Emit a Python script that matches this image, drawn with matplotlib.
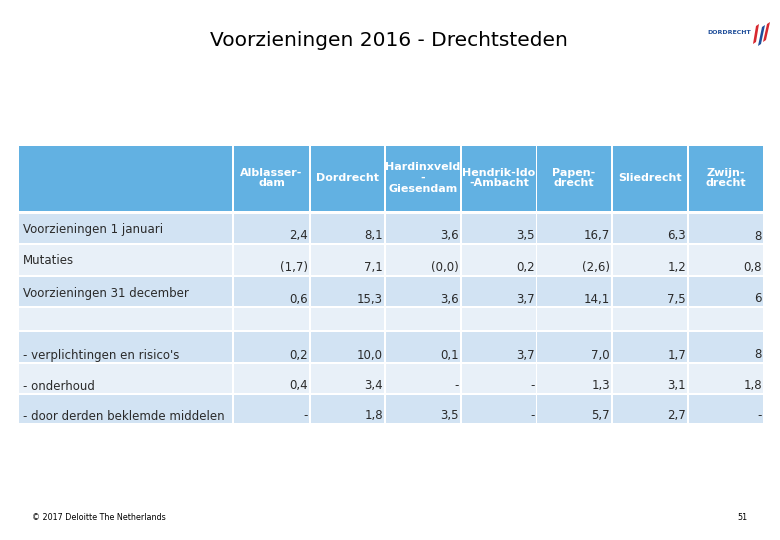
import matplotlib.pyplot as plt
from matplotlib.patches import Rectangle, Polygon

# Table content
columns = ["Alblasser-\ndam", "Dordrecht", "Hardinxveld\n-\nGiesendam", "Hendrik-Ido\n-Ambacht",
           "Papen-\ndrecht", "Sliedrecht", "Zwijn-\ndrecht"]
row_labels = ["Voorzieningen 1 januari", "Mutaties", "Voorzieningen 31 december", "",
              "- verplichtingen en risico's", "- onderhoud", "- door derden beklemde middelen"]
jan_1 = ["2,4", "8,1", "3,6", "3,5", "16,7", "6,3", "8"]
mutaties = ["(1,7)", "7,1", "(0,0)", "0,2", "(2,6)", "1,2", "0,8"]
dec_31 = ["0,6", "15,3", "3,6", "3,7", "14,1", "7,5", "6"]
empty_row = [""] * 7
verplichtingen = ["0,2", "10,0", "0,1", "3,7", "7,0", "1,7", "8"]
onderhoud = ["0,4", "3,4", "-", "-", "1,3", "3,1", "1,8"]
derden = ["-", "1,8", "3,5", "-", "5,7", "2,7", "-"]
rows = [jan_1, mutaties, dec_31, empty_row, verplichtingen, onderhoud, derden]

HEADER = "#62B1E2"
DARK = "#D2E3F3"
LIGHT = "#E8F0F8"
FONT = "DejaVu Sans"

fig = plt.figure(figsize=(7.8, 5.4), dpi=100)
ax = fig.add_axes([0, 0, 1, 1])
ax.set_xlim(0, 780)
ax.set_ylim(540, 0)
ax.axis("off")

# column edges (pixels)
col_x = [19, 234, 311, 386, 462, 537, 613, 689]
col_r = [232, 309, 384, 460, 536, 611, 687, 763]
# row edges
row_top = [214, 245, 277, 308, 332, 364, 395]
row_bot = [243, 275, 306, 330, 362, 393, 423]

# header
for l, r in zip(col_x, col_r):
    ax.add_patch(Rectangle((l, 146), r - l, 65, facecolor=HEADER, edgecolor="none"))
for i, name in enumerate(columns):
    cx = (col_x[i + 1] + col_r[i + 1]) / 2
    ax.text(cx, 178, name, ha="center", va="center", color="white", fontsize=8,
            fontweight="bold", family=FONT, linespacing=1.1)

# body
for ri, (label, vals) in enumerate(zip(row_labels, rows)):
    color = DARK if ri % 2 == 0 else LIGHT
    top, bot = row_top[ri], row_bot[ri]
    for l, r in zip(col_x, col_r):
        ax.add_patch(Rectangle((l, top), r - l, bot - top, facecolor=color, edgecolor="none"))
    if ri < 3:
        ly = top + 16
    else:
        ly = bot - 7
    ax.text(23, ly, label, ha="left", va="center", fontsize=8.5, family=FONT, color="#2a2a2a")
    for ci, v in enumerate(vals):
        ax.text(col_r[ci + 1] - 1, bot - 7, v, ha="right", va="center", fontsize=8.5,
                family=FONT, color="#2a2a2a")

# title
ax.text(389, 40, "Voorzieningen 2016 - Drechtsteden", ha="center", va="center",
        fontsize=14.5, family=FONT, color="black")

# logo
ax.text(751, 32, "DORDRECHT", ha="right", va="center", fontsize=4.5, fontweight="bold",
        family=FONT, color="#1F4E9A")
ax.add_patch(Polygon([[753, 44], [756, 26], [759, 24], [756, 42]], closed=True,
                     facecolor="#D7282F", edgecolor="none"))
ax.add_patch(Polygon([[758, 46], [762, 27], [765, 25], [761, 44]], closed=True,
                     facecolor="#1F4E9A", edgecolor="none"))
ax.add_patch(Polygon([[763, 42], [767, 24], [770, 22], [766, 40]], closed=True,
                     facecolor="#D7282F", edgecolor="none"))

# footer
ax.text(32, 518, "\u00a9 2017 Deloitte The Netherlands", ha="left", va="center",
        fontsize=5.8, family=FONT, color="black")
ax.text(747, 518, "51", ha="right", va="center", fontsize=5.8, family=FONT, color="black")

fig.savefig("out.png", dpi=100, facecolor="white")
